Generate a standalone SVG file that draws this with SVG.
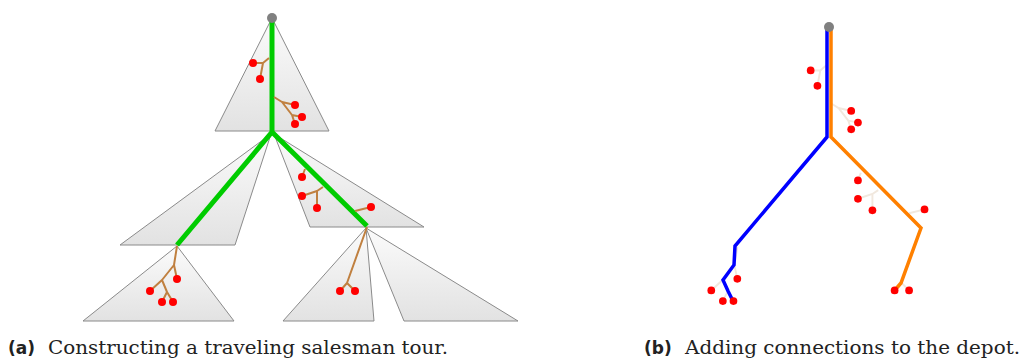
<svg xmlns="http://www.w3.org/2000/svg" width="1023" height="359" viewBox="0 0 1023 359">
<defs>
<linearGradient id="g" x1="0" y1="0" x2="0" y2="1">
<stop offset="0" stop-color="#fbfbfb"/>
<stop offset="1" stop-color="#e2e2e2"/>
</linearGradient>
<style>
.tri{fill:url(#g);stroke:#8a8a8a;stroke-width:1;stroke-linejoin:miter}
.tour{fill:none;stroke:#00cc00;stroke-width:5;stroke-linejoin:round}
.br{fill:none;stroke:#c08040;stroke-width:2;stroke-linejoin:round}
.brf{fill:none;stroke:#f1e8de;stroke-width:2;stroke-linejoin:round}
.dot{fill:#ff0000}
.depot{fill:#808080}
.blue{fill:none;stroke:#0000ff;stroke-width:3.5;stroke-linejoin:miter}
.orange{fill:none;stroke:#ff8000;stroke-width:3.5;stroke-linejoin:miter}
.lab{font-family:"DejaVu Serif","Liberation Serif",serif;font-size:18px;fill:#222}
.labb{font-family:"DejaVu Sans","Liberation Sans",sans-serif;font-size:17px;font-weight:bold;fill:#222}
</style>
</defs>

<g id="fig-a">
<g id="subtree-1"><polygon class="tri" points="272,18 329,131 215,131"/></g>
<g id="subtree-2"><polygon class="tri" points="271,134 235,245 120,245"/></g>
<g id="subtree-3"><polygon class="tri" points="274,134 424,227 310,227"/></g>
<g id="subtree-4"><polygon class="tri" points="177,246 234,321 83,321"/></g>
<g id="subtree-5"><polygon class="tri" points="366,228 374,321 283,321"/></g>
<g id="subtree-6"><polygon class="tri" points="366,228 518,321 404,321"/></g>

<g id="connectors-a">
<path class="tour" d="M272,18 L272,132 L177,245 M272,132 L367,226"/>
<path class="br" d="M269,58 L263,63 L253,63 M263,63 L260,79"/>
<path class="br" d="M274,97 L282,102 L295,105 M282,102 L292,115 L302,117 M292,115 L295,124"/>
<path class="br" d="M305,169 L302,177"/>
<path class="br" d="M323,187 L317,191 L302,196 M317,191 L317,208"/>
<path class="br" d="M355,211 L371,207"/>
<path class="br" d="M177,246 L174,265 L177,279 M174,265 L162,280 L150,291 M162,280 L167,292 L162,302 M167,292 L173,302"/>
<path class="br" d="M367,227 L347,283 L340,291 M347,283 L355,291"/>
</g>

<g id="customers-a">
<circle class="dot" cx="253" cy="63" r="4"/>
<circle class="dot" cx="260" cy="79" r="4"/>
<circle class="dot" cx="295" cy="105" r="4"/>
<circle class="dot" cx="302" cy="117" r="4"/>
<circle class="dot" cx="295" cy="124" r="4"/>
<circle class="dot" cx="302" cy="177" r="4"/>
<circle class="dot" cx="302" cy="196" r="4"/>
<circle class="dot" cx="317" cy="208" r="4"/>
<circle class="dot" cx="371" cy="207" r="4"/>
<circle class="dot" cx="177" cy="279" r="4"/>
<circle class="dot" cx="150" cy="291" r="4"/>
<circle class="dot" cx="162" cy="302" r="4"/>
<circle class="dot" cx="173" cy="302" r="4"/>
<circle class="dot" cx="340" cy="291" r="4"/>
<circle class="dot" cx="355" cy="291" r="4"/>
</g>
<g id="depot-a"><circle class="depot" cx="272" cy="18" r="5"/></g>
</g>

<g id="fig-b">
<g id="connectors-b">
<g transform="translate(829,27) scale(0.965) translate(-272,-18)">
<path class="brf" d="M269,58 L263,63 L253,63 M263,63 L260,79"/>
<path class="brf" d="M274,97 L282,102 L295,105 M282,102 L292,115 L302,117 M292,115 L295,124"/>
<path class="brf" d="M305,169 L302,177"/>
<path class="brf" d="M323,187 L317,191 L302,196 M317,191 L317,208"/>
<path class="brf" d="M355,211 L371,207"/>
<path class="brf" d="M177,246 L174,265 L177,279 M174,265 L162,280 L150,291 M162,280 L167,292 L162,302 M167,292 L173,302"/>
<path class="brf" d="M367,227 L347,283 L340,291 M347,283 L355,291"/>
</g>
<path class="blue" d="M827,27 L827,137 L735,246 L734,265 L723,280 L728,291 L733,301"/>
<path class="orange" d="M831,27 L831,137 L921,228 L901,283 L895,290"/>
</g>
<g id="customers-b" transform="translate(829,27) scale(0.965) translate(-272,-18)">
<circle class="dot" cx="253" cy="63" r="4"/>
<circle class="dot" cx="260" cy="79" r="4"/>
<circle class="dot" cx="295" cy="105" r="4"/>
<circle class="dot" cx="302" cy="117" r="4"/>
<circle class="dot" cx="295" cy="124" r="4"/>
<circle class="dot" cx="302" cy="177" r="4"/>
<circle class="dot" cx="302" cy="196" r="4"/>
<circle class="dot" cx="317" cy="208" r="4"/>
<circle class="dot" cx="371" cy="207" r="4"/>
<circle class="dot" cx="177" cy="279" r="4"/>
<circle class="dot" cx="150" cy="291" r="4"/>
<circle class="dot" cx="162" cy="302" r="4"/>
<circle class="dot" cx="173" cy="302" r="4"/>
<circle class="dot" cx="340" cy="291" r="4"/>
<circle class="dot" cx="355" cy="291" r="4"/>
</g>
<g id="depot-b"><circle class="depot" cx="829" cy="27" r="5"/></g>
</g>

<g id="captions">
<text class="labb" x="8" y="354">(a)</text>
<text class="lab" x="48" y="354" textLength="400" lengthAdjust="spacingAndGlyphs">Constructing a traveling salesman tour.</text>
<text class="labb" x="644" y="354">(b)</text>
<text class="lab" x="685" y="354" textLength="335" lengthAdjust="spacingAndGlyphs">Adding connections to the depot.</text>
</g>
</svg>
